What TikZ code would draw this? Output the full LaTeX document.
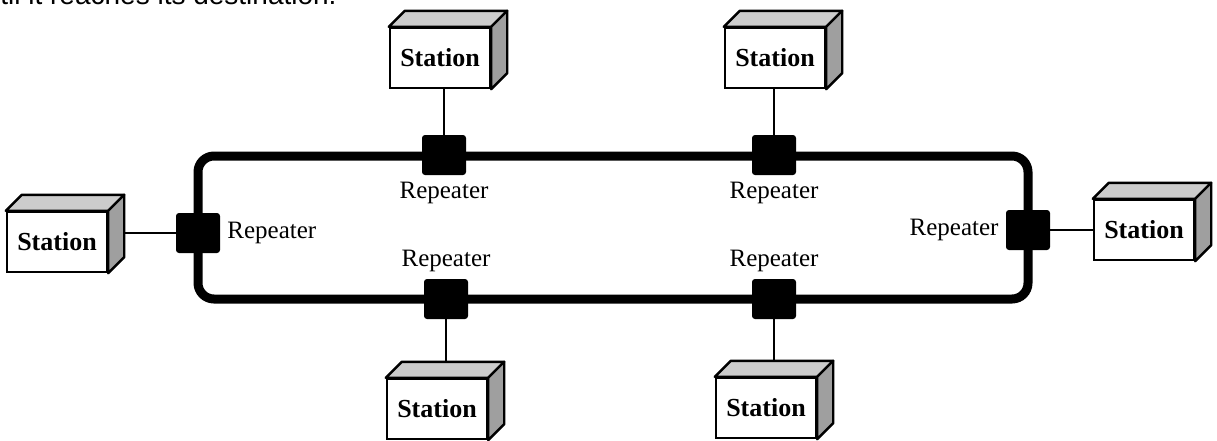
\documentclass[tikz,border=0pt]{standalone}
\usepackage{fontspec}
\setmainfont{Liberation Serif}
\newfontfamily\headfont{Liberation Sans}
\usetikzlibrary{positioning,backgrounds}

\begin{document}
\begin{tikzpicture}[x=0.5pt,y=-0.5pt,
  repeater/.style={fill=black,minimum width=22pt,minimum height=20pt,
    rounded corners=1.5pt,inner sep=0pt},
  station/.style={draw,line width=1.2pt,fill=white,minimum width=50pt,
    minimum height=30pt,inner sep=0pt,font=\bfseries\fontsize{13}{15}\selectfont},
  replabel/.style={font=\fontsize{12.5}{14}\selectfont},
  ring/.style={line width=4.5pt,rounded corners=8pt},
  link/.style={line width=1pt}]
\useasboundingbox (0,0) rectangle (1217,440);
\clip (0,0) rectangle (1217,440);
\def \depth {8pt}

% end of the text line above the figure
\node[anchor=base west,inner sep=0pt,font=\headfont\fontsize{14}{16}\selectfont]
  (head) at (0,4) {til it reaches its destination.};

% ring
\draw[ring] (198,156) rectangle (1028,299);

% repeaters
\node[repeater] (r1) at (444,155) {};
\node[repeater] (r2) at (774,155) {};
\node[repeater] (r3) at (198,233) {};
\node[repeater] (r4) at (1028,230) {};
\node[repeater] (r5) at (446,299) {};
\node[repeater] (r6) at (774,299) {};
\node[replabel,below=0pt of r1] (l1) {Repeater};
\node[replabel,below=0pt of r2] (l2) {Repeater};
\node[replabel,right=0pt of r3] (l3) {Repeater};
\node[replabel,left=0pt of r4] (l4) {Repeater};
\node[replabel,above=0pt of r5] (l5) {Repeater};
\node[replabel,above=0pt of r6] (l6) {Repeater};

% stations
\node[station] (s1) at (440,58) {Station};
\node[station] (s2) at (775,58) {Station};
\node[station] (s3) at (57,242) {Station};
\node[station] (s4) at (1144,230) {Station};
\node[station] (s5) at (437,409) {Station};
\node[station] (s6) at (766,408) {Station};
\foreach \s in {s1,s2,s3,s4,s5,s6}
  {\filldraw[fill=gray!40,line width=1.2pt,line join=round] (\s.north west)
     -- ++(\depth,\depth) -- ([shift={(\depth,\depth)}]\s.north east)
     -- (\s.north east) -- cycle;
   \filldraw[fill=gray!75,line width=1.2pt,line join=round] (\s.north east)
     -- ++(\depth,\depth) -- ([shift={(\depth,\depth)}]\s.south east)
     -- (\s.south east) -- cycle;}

% drops from the ring to the stations
\begin{scope}[on background layer]
\draw[link] (r1) -- (r1 |- s1.south);
\draw[link] (r2) -- (r2 |- s2.south);
\draw[link] (r3) -- (r3 -| s3.east);
\draw[link] (r4) -- (r4 -| s4.west);
\draw[link] (r5) -- (r5 |- s5.north);
\draw[link] (r6) -- (r6 |- s6.north);
\end{scope}
\end{tikzpicture}
\end{document}
